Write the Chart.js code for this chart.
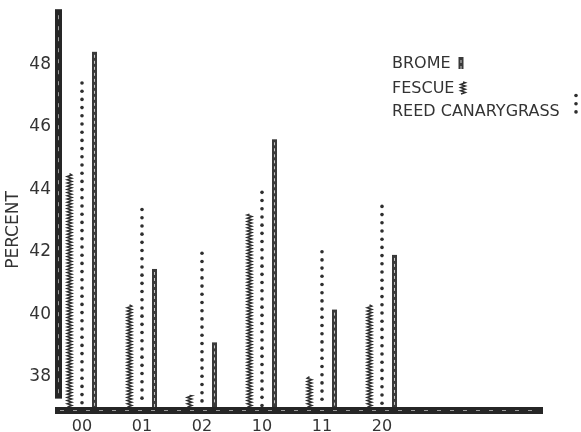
<!DOCTYPE html>
<html>
<head>
<meta charset="utf-8">
<script src="https://cdn.jsdelivr.net/npm/chart.js@4.4.1/dist/chart.umd.min.js"></script>
<style>
  html, body { margin: 0; padding: 0; background: #fff; }
</style>
</head>
<body>
<canvas id="barchart" width="581" height="432"></canvas>
<script>
const categories = ["00", "01", "02", "10", "11", "20"];
const fescue = [44.5, 40.3, 37.4, 43.2, 38.0, 40.3];
const reedCanarygrass = [47.45, 43.4, 42.0, 43.95, 42.05, 43.5];
const brome = [48.4, 41.45, 39.1, 45.6, 40.15, 41.9];
const yTicks = [38, 40, 42, 44, 46, 48];
const legendNames = ["BROME", "FESCUE", "REED CANARYGRASS"];
const yMin = 37.0;
const yMax = 49.7;

const ink = "#2e2e2e";
const textColor = "#333";

function drawWavy(ctx, x, top, bottom) {
  ctx.beginPath();
  let left = true;
  ctx.moveTo(x - 2, bottom);
  for (let y = bottom - 1.6; y > top; y -= 1.6) {
    ctx.lineTo(left ? x + 2.3 : x - 2.3, y);
    left = !left;
  }
  ctx.lineTo(x, top);
  ctx.stroke();
}

function drawDots(ctx, x, top, bottom) {
  for (let y = top + 1.5; y <= bottom - 1; y += 8.2) {
    ctx.beginPath();
    ctx.arc(x, y, 1.8, 0, Math.PI * 2);
    ctx.fill();
  }
}

function drawGrayBar(ctx, x, top, bottom) {
  ctx.fillStyle = "#3a3a3a";
  ctx.fillRect(x - 2.5, top, 5, bottom - top);
  ctx.fillStyle = "#c8c8c8";
  for (let y = top + 3; y < bottom - 2; y += 6) {
    ctx.fillRect(x - 0.5, y, 1, 3);
  }
}

const paperPlugin = {
  id: "paper",
  beforeDatasetsDraw(chart) {
    const { ctx, chartArea, scales } = chart;
    ctx.save();
    // thick hand-drawn axes
    const yEnd = scales.y.getPixelForValue(37.3);
    ctx.fillStyle = "#262626";
    ctx.fillRect(chartArea.left + 3, chartArea.top - 2, 7, yEnd - chartArea.top + 2);
    ctx.fillRect(chartArea.left + 3, chartArea.bottom - 1, 488, 7);
    ctx.fillStyle = "#9a9a9a";
    for (let y = chartArea.top + 4; y < yEnd - 4; y += 11) {
      ctx.fillRect(chartArea.left + 6, y, 1, 4);
    }
    for (let x = chartArea.left + 8; x < chartArea.left + 488; x += 13) {
      ctx.fillRect(x, chartArea.bottom + 2, 4, 1);
    }
    // axis title
    ctx.fillStyle = textColor;
    ctx.font = "17px 'DejaVu Sans'";
    ctx.textAlign = "center";
    ctx.textBaseline = "middle";
    ctx.translate(14, 230);
    ctx.rotate(-Math.PI / 2);
    ctx.fillText("PERCENT", 0, 0);
    ctx.restore();
  },
  afterDatasetsDraw(chart) {
    const { ctx, chartArea } = chart;
    const floor = chartArea.bottom - 1;
    ctx.save();
    ctx.strokeStyle = ink;
    ctx.fillStyle = ink;
    ctx.lineWidth = 1.5;
    chart.getDatasetMeta(0).data.forEach(bar => drawWavy(ctx, bar.x, bar.y, Math.min(bar.base, floor)));
    chart.getDatasetMeta(1).data.forEach(bar => drawDots(ctx, bar.x, bar.y, Math.min(bar.base, floor)));
    chart.getDatasetMeta(2).data.forEach(bar => drawGrayBar(ctx, bar.x, bar.y, Math.min(bar.base, floor)));

    // legend
    ctx.fillStyle = textColor;
    ctx.font = "16px 'DejaVu Sans'";
    ctx.textBaseline = "alphabetic";
    ctx.fillText(legendNames[0], 392, 68);
    ctx.fillText(legendNames[1], 392, 93);
    ctx.fillText(legendNames[2], 392, 116);
    drawGrayBar(ctx, 461, 57, 69);
    ctx.strokeStyle = ink;
    drawWavy(ctx, 463, 82, 94);
    ctx.fillStyle = ink;
    drawDots(ctx, 576, 94, 121);
    ctx.restore();
  }
};

new Chart(document.getElementById("barchart"), {
  type: "bar",
  data: {
    labels: categories,
    datasets: [
      { label: "FESCUE", data: fescue, backgroundColor: "rgba(0,0,0,0)" },
      { label: "REED CANARYGRASS", data: reedCanarygrass, backgroundColor: "rgba(0,0,0,0)" },
      { label: "BROME", data: brome, backgroundColor: "rgba(0,0,0,0)" }
    ]
  },
  options: {
    responsive: false,
    animation: false,
    categoryPercentage: 0.625,
    barPercentage: 0.4,
    layout: { padding: { top: 10, right: 169, left: 0, bottom: 0 } },
    plugins: {
      legend: { display: false },
      tooltip: { enabled: false }
    },
    scales: {
      x: {
        grid: { display: false, drawTicks: false },
        border: { display: false },
        ticks: { color: textColor, font: { family: "DejaVu Sans", size: 16 }, padding: 9 },
        afterFit: scale => { scale.height = 24; }
      },
      y: {
        min: yMin,
        max: yMax,
        grid: { display: false, drawTicks: false },
        border: { display: false },
        afterBuildTicks: scale => { scale.ticks = yTicks.map(v => ({ value: v })); },
        ticks: { color: textColor, font: { family: "DejaVu Sans", size: 17 }, padding: 1 },
        afterFit: scale => { scale.width = 52; }
      }
    }
  },
  plugins: [paperPlugin]
});
</script>
</body>
</html>
